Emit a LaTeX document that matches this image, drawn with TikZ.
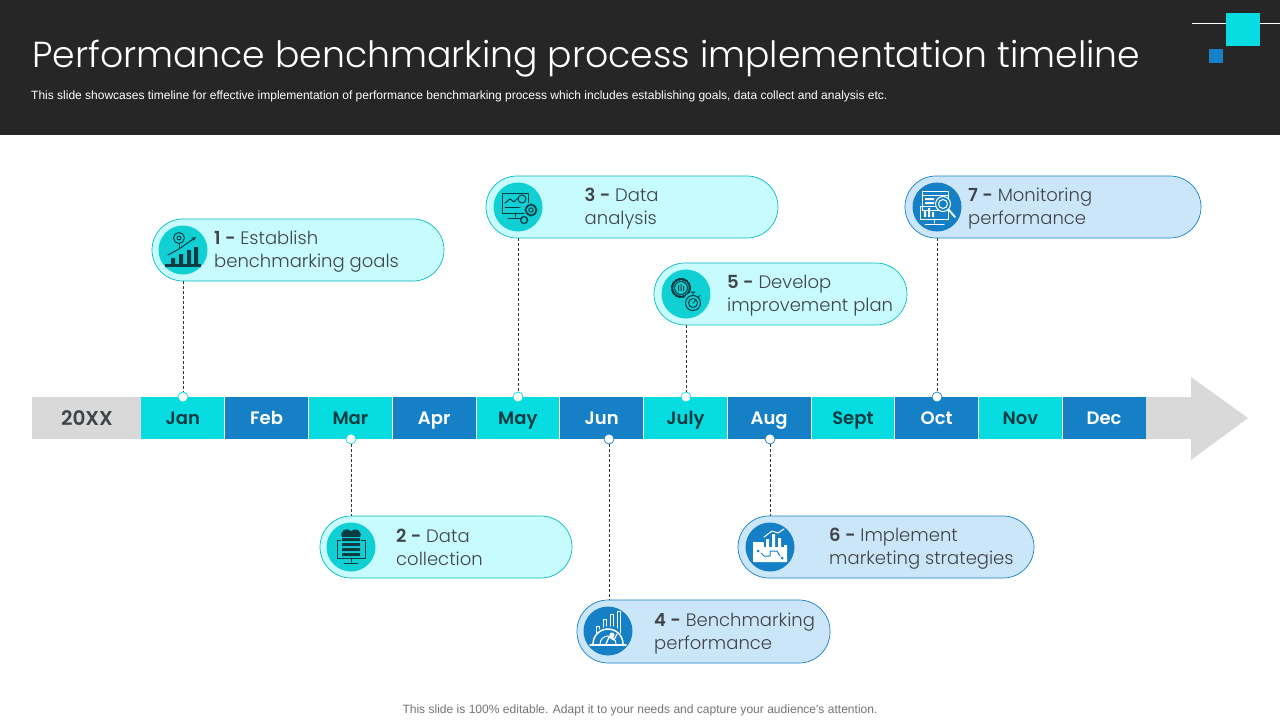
\documentclass[tikz,border=0pt]{standalone}
\usepackage{fontspec}
\setmainfont{Poppins}[UprightFont=* Light,BoldFont=* SemiBold]
\newfontfamily\arialf{Liberation Sans}
\usetikzlibrary{calc}
\definecolor{hdr}{HTML}{262626}
\definecolor{teal}{HTML}{07DDE0}
\definecolor{dsc}{HTML}{10D0D4}
\definecolor{blu}{HTML}{1580C6}
\definecolor{lteal}{HTML}{C8FBFD}
\definecolor{lblu}{HTML}{CCE6F9}
\definecolor{bar}{HTML}{D9D9D9}
\definecolor{ink}{HTML}{3F4448}
\definecolor{dteal}{HTML}{0B3C44}
\tikzset{
 x=1pt,y=-1pt,
 pill/.style={draw,line width=.7pt,rounded corners=31pt,minimum height=62pt,inner sep=0pt},
 pillT/.style={pill,draw=teal!85!black,fill=lteal},
 pillB/.style={pill,draw=blu,fill=lblu},
 disc/.style={circle,minimum size=49pt,inner sep=0pt},
 dot/.style={circle,draw,fill=white,line width=.7pt,minimum size=10pt,inner sep=0pt},
 lead/.style={densely dashed,line width=.6pt,draw=black!80},
 txt/.style={anchor=west,align=left,inner sep=0pt,text=ink,font=\fontsize{18}{23}\selectfont},
 mon/.style={minimum width=83.75pt,minimum height=42pt,inner sep=0pt,text height=14.5pt,text depth=1.5pt,font=\bfseries\fontsize{18}{20}\selectfont},
 monT/.style={mon,fill=teal,text=dteal},
 monB/.style={mon,fill=blu,text=white},
 ic/.style={line width=1pt,line cap=round,line join=round},
}
% icons are drawn about the origin, i.e. the centre of the disc
\newcommand{\icA}{%
 \draw (-4,-12) circle (5.5) (-4,-12) circle (2);
 \draw (-4,-6.5)--(-4,-2);
 \fill (-18,14) rectangle (18,17);
 \fill (-12,8) rectangle (-8,14) (-4,4) rectangle (0,14) (4,0) rectangle (8,14) (11,-3) rectangle (15,14);
 \draw[-stealth] (-15,5)--(-4,-1)--(13,-13);
}
\newcommand{\icB}{%
 \fill (-9,-9) .. controls (-12,-17) and (-4,-20) .. (0,-16) .. controls (5,-20) and (12,-16) .. (9,-9) -- cycle;
 \draw (-14,-7) rectangle (14,11);
 \fill[fill=dsc] (-10,-10) rectangle (10,11);
 \fill (-9,-9) rectangle (9,-6) (-9,-4) rectangle (9,-1) (-9,1) rectangle (9,4) (-9,6) rectangle (9,9);
 \draw (0,11)--(0,15) (-7,16)--(7,16);
}
\newcommand{\icC}{%
 \draw (-16,-14) rectangle (10,6);
 \draw (-13,-4)--(-8,-8)--(-4,-5)--(0,-9);
 \draw (4,-8) circle (4);
 \draw (-13,0)--(2,0) (-3,6)--(-3,10) (-10,11)--(4,11);
 \fill[fill=dsc] (13,3) circle (7.5);
 \draw[line width=2pt,dash pattern=on 1.5pt off 1.2pt] (13,3) circle (5.5);
 \draw (13,3) circle (2.2);
 \draw[line width=1.5pt,dash pattern=on 1.2pt off 1pt] (6,13) circle (3.5);
}
\newcommand{\icD}{%
 \draw[line width=2.5pt,dash pattern=on 2pt off 1.6pt] (-5,-6) circle (9);
 \draw (-5,-6) circle (6.5);
 \fill (-8,-9) rectangle (-7,-3) (-5.5,-10) rectangle (-4.5,-3) (-3,-8) rectangle (-2,-3);
 \fill[fill=dsc] (7,8) circle (9.5);
 \draw (7,9) circle (7.5) (7,9) circle (4.5);
 \draw (7,9)--(9.5,6.5) (7,1.5)--(7,-1) (5,-2)--(9,-2) (12.5,3)--(14,1.5);
}
\newcommand{\icG}{%
 \draw (-15,-16) rectangle (11,3);
 \draw (-15,-12)--(11,-12);
 \fill (-12,-9) rectangle (-3,-7) (-12,-5) rectangle (-3,-3);
 \draw (-17,-1) rectangle (11,12);
 \fill (-13,10) rectangle (-11,4) (-9,10) rectangle (-7,1) (-5,10) rectangle (-3,5);
 \draw[fill=blu] (6,-3) circle (7.5) (6,-3) circle (4.5);
 \draw[line width=1.8pt] (11.5,2.5)--(18,10);
 \draw (-3,12)--(-3,16) (-12,17)--(7,17);
}
\newcommand{\icE}{%
 \draw (-12,2)--(-12,-5)--(-9,-5)--(-9,-2)
       (-5,-4)--(-5,-12)--(-2,-12)--(-2,-5) (2,-5)--(2,-17)--(5,-17)--(5,-5)
       (9,-3)--(9,-20)--(12,-20)--(12,2);
 \draw[line width=1.5pt] (-15,13) arc[start angle=180,end angle=360,radius=15];
 \draw[line width=1.5pt] (-18,14)--(18,14);
 \draw[line width=1pt] (-8,13) arc[start angle=180,end angle=360,radius=8];
 \draw[line width=1.3pt] (-2,13)--(1,6)--(6,9)--(9,3);
 \fill (4,4) circle (2.5);
}
\newcommand{\icF}{%
 \fill (-17,-5)--(-7,-5)--(-4,-2)--(17,-2)--(17,15)--(-17,15)--cycle;
 \fill[fill=blu] (-6,-18) rectangle (14,0);
 \fill (-4,0) rectangle (-1,-8) (2,0) rectangle (5,-13) (8,0) rectangle (11,-9);
 \draw (-6,-10)--(2,-16)--(8,-14)--(14,-18);
 \draw[blu] (-9,6)--(-6,9)--(0,9)--(0,4)--(7,4)--(10,9);
 \fill[fill=blu] (-12,4) circle (1.5) (12,11) circle (1.5);
}
\begin{document}
\begin{tikzpicture}
\useasboundingbox (0,0) rectangle (1280,720);
\fill[hdr] (0,0) rectangle (1280,135);
\node[anchor=base west,inner sep=0pt,text=white,font=\fontsize{36.2}{40}\selectfont] (title) at (32,67) {Performance benchmarking process implementation timeline};
\node[anchor=base west,inner sep=0pt,text=white,font=\arialf\fontsize{12}{13}\selectfont] (sub) at (31,99) {This slide showcases timeline for effective implementation of performance benchmarking process which includes establishing goals, data collect and analysis etc.};
\draw[white,line width=.8pt] (1192,23)--(1280,23);
\fill[teal] (1226,13) rectangle (1260,46);
\fill[blu] (1209,49) rectangle (1223,63);

% timeline arrow
\fill[bar] (32,397) rectangle (1191,439);
\fill[bar] (1191,377)--(1248,418)--(1191,460)--cycle;
\node[font=\bfseries\fontsize{20}{22}\selectfont,text=ink,inner sep=0pt] (yr) at (87,418.5) {20XX};
\foreach \n/\lab/\sty [count=\i from 0] in {jan/Jan/monT,feb/Feb/monB,mar/Mar/monT,apr/Apr/monB,may/May/monT,jun/Jun/monB,jul/July/monT,aug/Aug/monB,sep/Sept/monT,oct/Oct/monB,nov/Nov/monT,dec/Dec/monB}
  \node[\sty] (\n) at ({141+83.75*(\i+.5)},418) {\lab};
\foreach \i in {1,...,11}
  \draw[white,line width=.6pt] ({141+83.75*\i},397)--({141+83.75*\i},439);

% pills
\node[pillT,minimum width=292pt] (p1) at (298,250) {};
\node[pillT,minimum width=252pt] (p2) at (446,547) {};
\node[pillT,minimum width=292pt] (p3) at (632,207) {};
\node[pillB,minimum width=253pt,minimum height=63pt] (p4) at (703.5,631.5) {};
\node[pillT,minimum width=253pt] (p5) at (780.5,294) {};
\node[pillB,minimum width=296pt] (p6) at (886,547) {};
\node[pillB,minimum width=296pt] (p7) at (1053,207) {};

\node[disc,fill=dsc] (c1) at (183,250) {};
\node[disc,fill=dsc] (c2) at (351,547) {};
\node[disc,fill=dsc] (c3) at (518,207) {};
\node[disc,fill=blu] (c4) at (608,631) {};
\node[disc,fill=dsc] (c5) at (686,294) {};
\node[disc,fill=blu] (c6) at (770,547) {};
\node[disc,fill=blu] (c7) at (937,207) {};

% dots and leaders
\node[dot,draw=teal] (d1) at (183,397) {};
\node[dot,draw=teal] (d2) at (351,439) {};
\node[dot,draw=teal] (d3) at (518,397) {};
\node[dot,draw=blu] (d4) at (609,439) {};
\node[dot,draw=teal] (d5) at (686,397) {};
\node[dot,draw=blu] (d6) at (770,439) {};
\node[dot,draw=blu] (d7) at (937,397) {};
\draw[lead] (p1.south -| d1) -- (d1.north);
\draw[lead] (d2.south) -- (p2.north -| d2);
\draw[lead] (p3.south -| d3) -- (d3.north);
\draw[lead] (d4.south) -- (p4.north -| d4);
\draw[lead] (p5.south -| d5) -- (d5.north);
\draw[lead] (d6.south) -- (p6.north -| d6);
\draw[lead] (p7.south -| d7) -- (d7.north);

% labels
\node[txt] (t1) at (214,252) {\textbf{1 -} Establish\\benchmarking goals};
\node[txt] (t2) at (396,547) {\textbf{2 -} Data\\collection};
\node[txt] (t3) at (584.5,209) {\textbf{3 -} Data\\analysis};
\node[txt] (t4) at (654,633.5) {\textbf{4 -} Benchmarking\\performance};
\node[txt] (t5) at (727,296) {\textbf{5 -} Develop\\improvement plan};
\node[txt] (t6) at (829,549) {\textbf{6 -} Implement\\marketing strategies};
\node[txt] (t7) at (968,209) {\textbf{7 -} Monitoring\\performance};

% icons
\begin{scope}[shift={(c1.center)},ic,draw=dteal,fill=dteal]\icA\end{scope}
\begin{scope}[shift={(c2.center)},ic,draw=dteal,fill=dteal]\icB\end{scope}
\begin{scope}[shift={(c3.center)},ic,draw=dteal,fill=dteal]\icC\end{scope}
\begin{scope}[shift={(c4.center)},ic,draw=white,fill=white]\icE\end{scope}
\begin{scope}[shift={(c5.center)},ic,draw=dteal,fill=dteal]\icD\end{scope}
\begin{scope}[shift={(c6.center)},ic,draw=white,fill=white]\icF\end{scope}
\begin{scope}[shift={(c7.center)},ic,draw=white,fill=white]\icG\end{scope}

\node[inner sep=0pt,text=black!55,font=\arialf\fontsize{12.05}{13}\selectfont] (foot) at (640,710.5) {This slide is 100\% editable. Adapt it to your needs and capture your audience's attention.};
\end{tikzpicture}
\end{document}
